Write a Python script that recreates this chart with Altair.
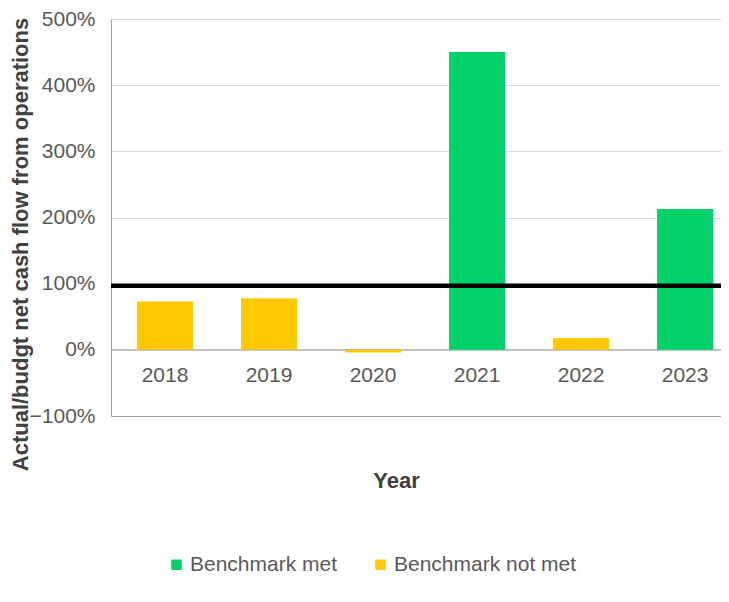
import altair as alt
import pandas as pd

years = ["2018", "2019", "2020", "2021", "2022", "2023"]
ratios = [0.73, 0.78, -0.04, 4.50, 0.18, 2.13]
status = ["Benchmark not met", "Benchmark not met", "Benchmark not met",
          "Benchmark met", "Benchmark not met", "Benchmark met"]
benchmark = [0.97]
zero_line = [0]
y_ticks = [-1, 0, 1, 2, 3, 4, 5]
legend_labels = ["Benchmark met", "Benchmark not met"]
legend_colors = ["#00D26A", "#FFC800"]

df = pd.DataFrame({"Year": years, "Ratio": ratios, "Status": status})

FONT = "Liberation Sans"

x_enc = alt.X(
    "Year:N",
    sort=years,
    scale=alt.Scale(paddingInner=0.4615, paddingOuter=0.163, align=0.767),
    axis=alt.Axis(
        labels=False, ticks=False, domain=True, domainColor="#a0a0a0",
        title="Year", titleFontSize=22, titleFont=FONT, titleFontWeight="bold",
        titleColor="#404040", titleX=285, titleY=64, titleBaseline="middle",
        titleAlign="center", grid=False,
    ),
)

y_enc = alt.Y(
    "Ratio:Q",
    scale=alt.Scale(domain=[-1, 5], nice=False, zero=False),
    axis=alt.Axis(
        values=y_ticks, format=".0%", ticks=False, labelPadding=16,
        labelFontSize=21, labelFont=FONT, labelColor="#595959",
        domain=True, domainColor="#a0a0a0", grid=True, gridColor="#d9d9d9",
        title="Actual/budgt net cash flow from operations",
        titleFontSize=22, titleFont=FONT, titleFontWeight="bold",
        titleColor="#404040", titleX=-91, titleY=225, titleAngle=-90,
        titleBaseline="middle", titleAlign="center",
    ),
)

bars = alt.Chart(df).mark_bar().encode(
    x=x_enc,
    y=y_enc,
    color=alt.Color(
        "Status:N",
        scale=alt.Scale(domain=legend_labels, range=legend_colors),
        legend=alt.Legend(
            title=None, orient="none", legendX=55, legendY=535,
            direction="horizontal", symbolType="square", symbolSize=110,
            symbolStrokeWidth=0, labelFontSize=21, labelFont=FONT,
            labelColor="#595959", labelOffset=3, columnPadding=32,
            labelLimit=400,
        ),
    ),
)

zero_rule = alt.Chart(pd.DataFrame({"v": zero_line})).mark_rule(
    color="#a0a0a0", strokeWidth=1
).encode(y=alt.Y("v:Q"))

bench_rule = alt.Chart(pd.DataFrame({"v": benchmark})).mark_rule(
    color="#000000", strokeWidth=4.5
).encode(y=alt.Y("v:Q"))

year_labels = alt.Chart(df).mark_text(
    dy=26, fontSize=21, font=FONT, color="#595959", baseline="middle"
).encode(
    x=alt.X("Year:N", sort=years),
    y=alt.datum(0),
    text="Year:N",
)

chart = alt.layer(zero_rule, bars, bench_rule, year_labels).properties(
    width=610,
    height=397,
    autosize="none",
    padding={"left": 103, "top": 11, "right": 0, "bottom": 178},
).configure_view(stroke=None)

chart.save("out.html", embed_options={"renderer": "svg", "actions": False})
